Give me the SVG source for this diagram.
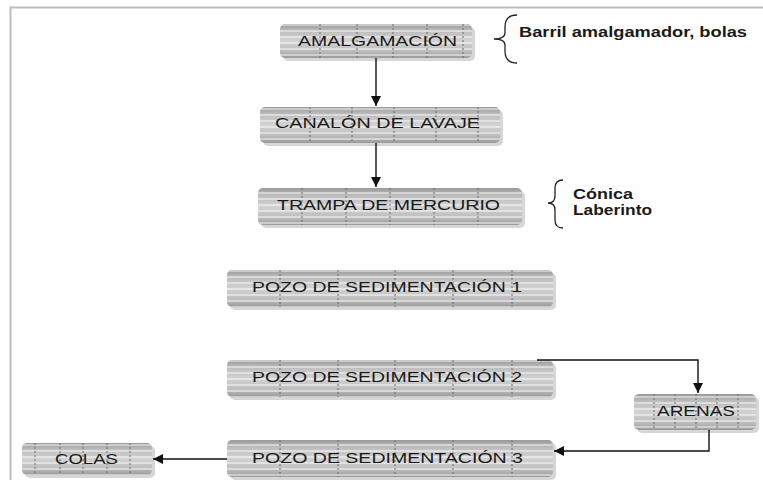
<svg xmlns="http://www.w3.org/2000/svg" width="763" height="480" viewBox="0 0 763 480">
<style>
.shadow{fill:#d6d6d6}
.box{fill:url(#grad)}
.stripe{fill:url(#stripes)}
.div{stroke:#6a6a6a;stroke-width:1;stroke-dasharray:2 2;fill:none}
.lbl{font-family:"Liberation Sans",Arial,sans-serif;font-size:15px;fill:#1a1a1a;text-anchor:middle}
.side{font-family:"Liberation Sans",Arial,sans-serif;font-size:14px;font-weight:bold;fill:#1a1a1a}
.conn{stroke:#111;stroke-width:1.4;fill:none}
.brace{stroke:#222;stroke-width:1.3;fill:none}
</style>
<defs>
<linearGradient id="grad" x1="0" y1="0" x2="0" y2="1">
<stop offset="0" stop-color="#9a9a9a"/>
<stop offset="0.2" stop-color="#bdbdbd"/>
<stop offset="0.5" stop-color="#d2d2d2"/>
<stop offset="0.8" stop-color="#bdbdbd"/>
<stop offset="1" stop-color="#9a9a9a"/>
</linearGradient>
<pattern id="stripes" patternUnits="userSpaceOnUse" width="10" height="6">
<rect x="0" y="0" width="10" height="2" fill="#ffffff" fill-opacity="0.45"/>
</pattern>
<marker id="arrow" markerUnits="userSpaceOnUse" markerWidth="12" markerHeight="10" refX="10" refY="5" orient="auto">
<path d="M0,0 L10,5 L0,10 Z" fill="#111"/>
</marker>
</defs>
<rect width="763" height="480" fill="#ffffff"/>
<path d="M10.5,480 V7.5 H763" stroke="#bdbdbd" stroke-width="2" fill="none"/>

<g id="amalgamacion">
<rect class="shadow" x="283" y="27" width="192" height="34" rx="5"/>
<rect class="box" x="280" y="24" width="192" height="34" rx="5"/>
<rect class="stripe" x="280" y="24" width="192" height="34" rx="5"/>
<path class="div" d="M320,24V58M357,24V58M393,24V58M427,24V58M463,24V58"/>
<text class="lbl" x="377.5" y="46" textLength="159" lengthAdjust="spacingAndGlyphs">AMALGAMACIÓN</text>
</g>

<g id="canalon">
<rect class="shadow" x="263" y="110" width="240" height="36" rx="5"/>
<rect class="box" x="260" y="107" width="240" height="36" rx="5"/>
<rect class="stripe" x="260" y="107" width="240" height="36" rx="5"/>
<path class="div" d="M310,107V143M352,107V143M394,107V143M436,107V143M478,107V143"/>
<text class="lbl" x="377.5" y="128" textLength="205" lengthAdjust="spacingAndGlyphs">CANALÓN DE LAVAJE</text>
</g>

<g id="trampa">
<rect class="shadow" x="261" y="191" width="264" height="37" rx="5"/>
<rect class="box" x="258" y="188" width="264" height="37" rx="5"/>
<rect class="stripe" x="258" y="188" width="264" height="37" rx="5"/>
<path class="div" d="M302,188V225M346,188V225M390,188V225M434,188V225M478,188V225"/>
<text class="lbl" x="388.5" y="210" textLength="223" lengthAdjust="spacingAndGlyphs">TRAMPA DE MERCURIO</text>
</g>

<g id="pozo1">
<rect class="shadow" x="230" y="273" width="326" height="37" rx="5"/>
<rect class="box" x="227" y="270" width="326" height="37" rx="5"/>
<rect class="stripe" x="227" y="270" width="326" height="37" rx="5"/>
<path class="div" d="M280,270V307M338,270V307M395,270V307M453,270V307M512,270V307"/>
<text class="lbl" x="387" y="292" textLength="270" lengthAdjust="spacingAndGlyphs">POZO DE SEDIMENTACIÓN 1</text>
</g>

<g id="pozo2">
<rect class="shadow" x="230" y="363" width="326" height="37" rx="5"/>
<rect class="box" x="227" y="360" width="326" height="37" rx="5"/>
<rect class="stripe" x="227" y="360" width="326" height="37" rx="5"/>
<path class="div" d="M280,360V397M338,360V397M395,360V397M453,360V397M512,360V397"/>
<text class="lbl" x="387" y="382" textLength="270" lengthAdjust="spacingAndGlyphs">POZO DE SEDIMENTACIÓN 2</text>
</g>

<g id="arenas">
<rect class="shadow" x="637" y="397" width="122" height="36" rx="5"/>
<rect class="box" x="634" y="394" width="122" height="36" rx="5"/>
<rect class="stripe" x="634" y="394" width="122" height="36" rx="5"/>
<path class="div" d="M654,394V430M675,394V430M696,394V430M717,394V430M738,394V430"/>
<text class="lbl" x="696" y="416" textLength="78" lengthAdjust="spacingAndGlyphs">ARENAS</text>
</g>

<g id="pozo3">
<rect class="shadow" x="230" y="443" width="326" height="37" rx="5"/>
<rect class="box" x="227" y="440" width="326" height="37" rx="5"/>
<rect class="stripe" x="227" y="440" width="326" height="37" rx="5"/>
<path class="div" d="M280,440V477M338,440V477M395,440V477M453,440V477M512,440V477"/>
<text class="lbl" x="387.5" y="463" textLength="271" lengthAdjust="spacingAndGlyphs">POZO DE SEDIMENTACIÓN 3</text>
</g>

<g id="colas">
<rect class="shadow" x="25" y="446" width="130" height="32" rx="5"/>
<rect class="box" x="22" y="443" width="130" height="32" rx="5"/>
<rect class="stripe" x="22" y="443" width="130" height="32" rx="5"/>
<path class="div" d="M35,443V475M60,443V475M83,443V475M107,443V475M130,443V475"/>
<text class="lbl" x="86.5" y="464" textLength="63" lengthAdjust="spacingAndGlyphs">COLAS</text>
</g>

<g id="notes">
<path class="brace" d="M517,15 Q505,15 505,27 L505,33 Q505,39 494,39 Q505,39 505,45 L505,51 Q505,63 517,63"/>
<text class="side" x="519" y="37" textLength="228" lengthAdjust="spacingAndGlyphs">Barril amalgamador, bolas</text>
<path class="brace" d="M563,180 Q555,180 555,188 L555,196 Q555,203 548,203 Q555,203 555,210 L555,220 Q555,228 563,228"/>
<text class="side" x="573" y="199" textLength="60" lengthAdjust="spacingAndGlyphs">Cónica</text>
<text class="side" x="573" y="215" textLength="79" lengthAdjust="spacingAndGlyphs">Laberinto</text>
</g>

<g id="connectors">
<path class="conn" d="M376,58 V106" marker-end="url(#arrow)"/>
<path class="conn" d="M376,143 V187" marker-end="url(#arrow)"/>
<path class="conn" d="M537,360 H698 V393" marker-end="url(#arrow)"/>
<path class="conn" d="M709,430 V451 H554" marker-end="url(#arrow)"/>
<path class="conn" d="M227,459 H153" marker-end="url(#arrow)"/>
</g>
</svg>
